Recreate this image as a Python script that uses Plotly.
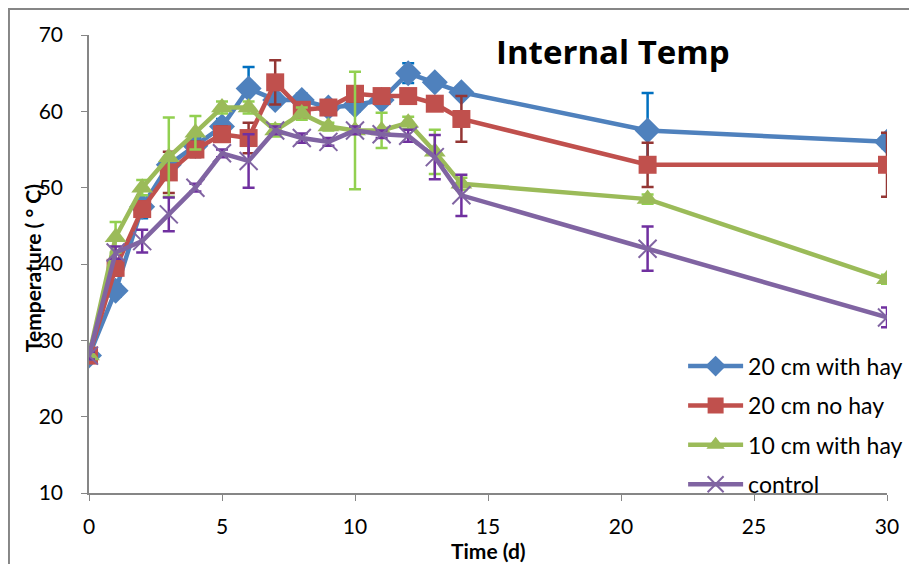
import plotly.graph_objects as go

days = [0, 1, 2, 3, 4, 5, 6, 7, 8, 9, 10, 11, 12, 13, 14, 21, 30]

hay20 = [28, 36.5, 47.5, 53, 55.5, 58, 63, 61.5, 61.5, 60.5, 60.8, 61.5, 65, 63.8, 62.5, 57.5, 56]
hay20_err = [0.5, 0.8, 1.5, 1.0, 1.0, 1.0, 2.8, 0.8, 0.8, 0.5, 0.8, 0.5, 1.3, 0.5, 0.5, 4.9, 0.8]

nohay20 = [28, 39.5, 47.2, 52, 55, 57, 56.5, 63.8, 60.2, 60.5, 62.3, 62, 62, 61, 59, 53, 53]
nohay20_err = [0.5, 1.0, 1.0, 2.7, 1.0, 1.0, 2.0, 2.9, 0.8, 0.5, 1.0, 0.5, 0.8, 0.5, 3.0, 2.9, 4.2]

hay10 = [28, 43.5, 50, 54, 57.2, 60.5, 60.5, 57.5, 59.7, 58, 57.5, 57.5, 58.5, 54.7, 50.5, 48.5, 38]
hay10_err = [0.5, 2.0, 1.0, 5.2, 2.2, 0.8, 0.8, 0.8, 0.8, 0.5, 7.7, 2.3, 0.8, 2.9, 0.8, 0.6, 0.6]

control = [28, 41.5, 43, 46.5, 50, 54.5, 53.5, 57.5, 56.5, 56, 57.5, 57, 56.8, 54, 49, 42, 33]
control_err = [0.5, 0.8, 1.5, 2.2, 0.5, 0.5, 3.5, 0.5, 0.6, 0.5, 0.5, 0.5, 0.8, 2.9, 2.7, 2.9, 1.3]

series = [
    ("20 cm with hay", hay20, hay20_err, "#4F81BD", "#0070C0", "diamond", 20),
    ("20 cm no hay", nohay20, nohay20_err, "#C0504D", "#943634", "square", 18),
    ("10 cm with hay", hay10, hay10_err, "#9BBB59", "#92D050", "triangle-up", 19),
    ("control", control, control_err, "#8064A2", "#7030A0", "x-thin", 18),
]

FONT = "Lato"

fig = go.Figure()
for i, (name, vals, errs, col, ecol, sym, sz) in enumerate(series):
    if sym == "x-thin":
        marker = dict(symbol=sym, size=sz, color=col, line=dict(color=col, width=2))
    else:
        marker = dict(symbol=sym, size=sz, color=col, line=dict(width=0))
    fig.add_trace(go.Scatter(
        x=days, y=vals, name=name, mode="lines+markers",
        line=dict(color=col, width=4.5),
        marker=marker,
        error_y=dict(type="data", array=errs, visible=True, color=ecol, thickness=2.5, width=6),
        legendgroup=name,
    ))

fig.update_layout(
    width=917, height=564,
    margin=dict(l=81, r=38, t=27, b=79),
    plot_bgcolor="white", paper_bgcolor="white",
    font=dict(family=FONT, size=18, color="black"),
    showlegend=True,
    legend=dict(x=0.7445, y=0.324, xanchor="left", yanchor="top",
                font=dict(family=FONT, size=23, color="black"),
                itemwidth=55, tracegroupgap=6.5, bgcolor="rgba(0,0,0,0)"),
    xaxis=dict(range=[0, 30], dtick=5, showgrid=False, zeroline=False,
               showline=True, linecolor="#868686", linewidth=1.5,
               ticks="outside", ticklen=6, tickcolor="#868686",
               ticklabelstandoff=8,
               tickfont=dict(family=FONT, size=21)),
    yaxis=dict(range=[10, 70], dtick=10, showgrid=False, zeroline=False,
               showline=True, linecolor="#868686", linewidth=1.5,
               ticks="outside", ticklen=6, tickcolor="#868686",
               ticklabelstandoff=14,
               tickfont=dict(family=FONT, size=21)),
    annotations=[
        dict(text="<b>Internal Temp</b>", x=0.657, y=0.963, xref="paper", yref="paper",
             xanchor="center", yanchor="middle",
             showarrow=False, font=dict(family="Open Sans", size=33, color="black")),
        dict(text="<b>Time (d)</b>", x=0.5, y=-0.125, xref="paper", yref="paper",
             xanchor="center", yanchor="middle",
             showarrow=False, font=dict(family=FONT, size=21, color="black")),
        dict(text="<b>Temperature ( ° C)</b>", x=-0.0714, y=0.491, xref="paper", yref="paper",
             xanchor="center", yanchor="middle",
             showarrow=False, textangle=-90, font=dict(family=FONT, size=21, color="black")),
    ],
    shapes=[
        dict(type="rect", xref="paper", yref="paper", x0=-0.1003, x1=1.0313, y0=-0.17, y1=1.0568,
             line=dict(color="#868686", width=2), layer="below"),
    ],
)

fig.write_html("out.html")
